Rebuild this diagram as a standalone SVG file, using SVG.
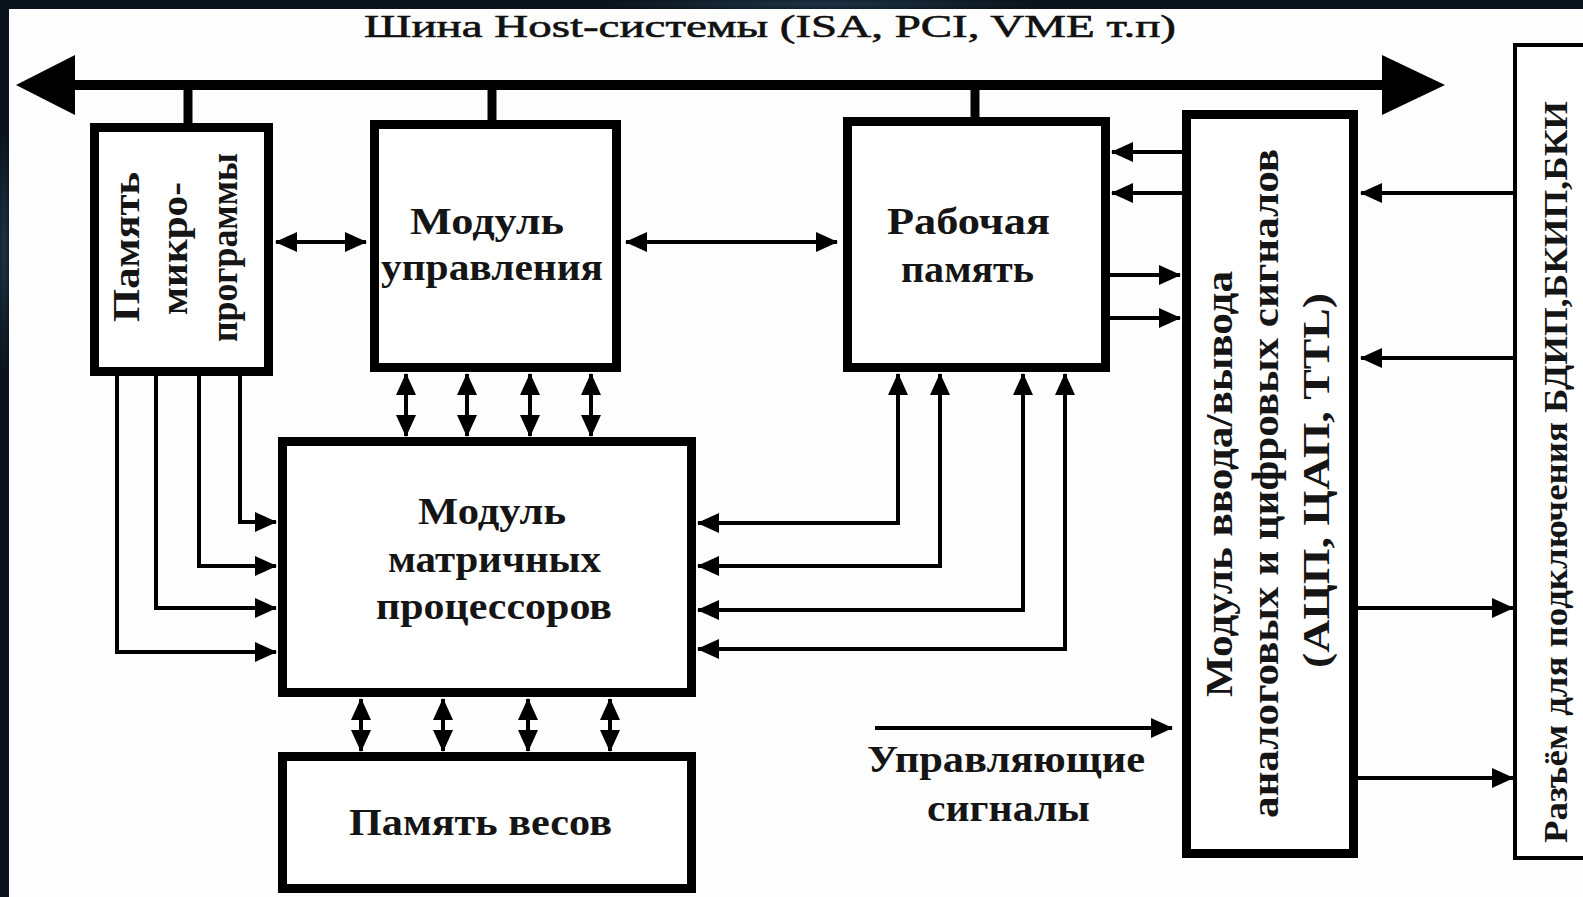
<svg xmlns="http://www.w3.org/2000/svg" width="1583" height="897" viewBox="0 0 1583 897">
<defs>
<marker id="ah" markerUnits="userSpaceOnUse" viewBox="0 0 22 20" markerWidth="22" markerHeight="20" refX="21" refY="10" orient="auto-start-reverse"><path d="M0,0 L22,10 L0,20 z" fill="#000"/></marker>
<radialGradient id="glow" cx="0.5" cy="0.5" r="0.5"><stop offset="0" stop-color="#2a4a63"/><stop offset="1" stop-color="#0b141c"/></radialGradient>
</defs>
<style>
.box{fill:#fff;stroke:#000;stroke-width:9}
.thin{fill:#fff;stroke:#000;stroke-width:4}
.ln{fill:none;stroke:#000;stroke-width:4}
.ar{marker-end:url(#ah)}
.ar2{marker-start:url(#ah);marker-end:url(#ah)}
.stub{stroke:#000;stroke-width:9}
.t{font-family:"Liberation Serif","Times New Roman",serif;font-weight:bold;fill:#151515}
.tn{font-family:"Liberation Serif","Times New Roman",serif;font-weight:normal;fill:#111;stroke:#111;stroke-width:0.6}
</style>
<rect x="0" y="0" width="1583" height="897" fill="#0b141c"/>
<ellipse cx="820" cy="4" rx="220" ry="8" fill="url(#glow)" opacity="0.6"/>
<ellipse cx="4" cy="250" rx="8" ry="120" fill="url(#glow)" opacity="0.6"/>
<rect x="9" y="9" width="1574" height="888" fill="#fdfdfd"/>

<text class="tn" x="364" y="37" font-size="32" textLength="812" lengthAdjust="spacingAndGlyphs">Шина Host-системы (ISA, PCI, VME т.п)</text>

<g id="connectors">
<line x1="70" y1="85" x2="1390" y2="85" stroke="#000" stroke-width="10"/>
<polygon points="16,85 75,55 75,115" fill="#000"/>
<polygon points="1445,85 1382,55 1382,115" fill="#000"/>
<line class="stub" x1="188" y1="85" x2="188" y2="124"/>
<line class="stub" x1="492" y1="85" x2="492" y2="122"/>
<line class="stub" x1="975" y1="85" x2="975" y2="119"/>

<path class="ln ar2" d="M276,242 H366"/>
<path class="ln ar2" d="M626,242 H837"/>

<path class="ln ar2" d="M406,374 V436"/>
<path class="ln ar2" d="M467,374 V436"/>
<path class="ln ar2" d="M530,374 V436"/>
<path class="ln ar2" d="M591,374 V436"/>

<path class="ln ar2" d="M361,699 V751"/>
<path class="ln ar2" d="M443,699 V751"/>
<path class="ln ar2" d="M528,699 V751"/>
<path class="ln ar2" d="M610,699 V751"/>

<path class="ln ar" d="M117,376 V652 H276"/>
<path class="ln ar" d="M156,376 V608 H276"/>
<path class="ln ar" d="M199,376 V566 H276"/>
<path class="ln ar" d="M240,376 V522 H276"/>

<path class="ln ar2" d="M898,374 V523 H698"/>
<path class="ln ar2" d="M940,374 V566 H698"/>
<path class="ln ar2" d="M1023,374 V610 H698"/>
<path class="ln ar2" d="M1065,374 V649 H698"/>

<path class="ln ar" d="M1182,152 H1112"/>
<path class="ln ar" d="M1182,193 H1112"/>
<path class="ln ar" d="M1110,275 H1180"/>
<path class="ln ar" d="M1110,318 H1180"/>

<path class="ln ar" d="M1515,193 H1361"/>
<path class="ln ar" d="M1515,358 H1361"/>
<path class="ln ar" d="M1358,608 H1513"/>
<path class="ln ar" d="M1358,778 H1513"/>

<path class="ln ar" d="M875,728 H1172"/>
</g>

<g id="mem-micro">
<rect class="box" x="94.5" y="127.5" width="174" height="244"/>
<text class="t" font-size="37" transform="translate(139,322) rotate(-90)" textLength="150" lengthAdjust="spacingAndGlyphs">Память</text>
<text class="t" font-size="37" transform="translate(187,315) rotate(-90)" textLength="133" lengthAdjust="spacingAndGlyphs">микро-</text>
<text class="t" font-size="37" transform="translate(237,342) rotate(-90)" textLength="189" lengthAdjust="spacingAndGlyphs">программы</text>
</g>

<g id="ctrl-module">
<rect class="box" x="374.5" y="124.5" width="242" height="243"/>
<text class="t" font-size="37" x="410" y="234" textLength="154" lengthAdjust="spacingAndGlyphs">Модуль</text>
<text class="t" font-size="37" x="381" y="280" textLength="222" lengthAdjust="spacingAndGlyphs">управления</text>
</g>

<g id="work-mem">
<rect class="box" x="847.5" y="121.5" width="258" height="246"/>
<text class="t" font-size="37" x="887" y="234" textLength="163" lengthAdjust="spacingAndGlyphs">Рабочая</text>
<text class="t" font-size="37" x="901" y="282" textLength="133" lengthAdjust="spacingAndGlyphs">память</text>
</g>

<g id="matrix-module">
<rect class="box" x="282.5" y="441.5" width="409" height="251"/>
<text class="t" font-size="37" x="418" y="524" textLength="148" lengthAdjust="spacingAndGlyphs">Модуль</text>
<text class="t" font-size="37" x="388" y="572" textLength="213" lengthAdjust="spacingAndGlyphs">матричных</text>
<text class="t" font-size="37" x="376" y="619" textLength="236" lengthAdjust="spacingAndGlyphs">процессоров</text>
</g>

<g id="weights-mem">
<rect class="box" x="282.5" y="756.5" width="409" height="132"/>
<text class="t" font-size="37" x="349" y="835" textLength="263" lengthAdjust="spacingAndGlyphs">Память весов</text>
</g>

<g id="io-module">
<rect class="box" x="1186.5" y="114.5" width="167" height="739"/>
<text class="t" font-size="37" transform="translate(1232,697) rotate(-90)" textLength="426" lengthAdjust="spacingAndGlyphs">Модуль ввода/вывода</text>
<text class="t" font-size="37" transform="translate(1278,818) rotate(-90)" textLength="669" lengthAdjust="spacingAndGlyphs">аналоговых и цифровых сигналов</text>
<text class="t" font-size="37" transform="translate(1329,668) rotate(-90)" textLength="375" lengthAdjust="spacingAndGlyphs">(АЦП, ЦАП, TTL)</text>
</g>

<g id="connector-slot">
<rect class="thin" x="1515" y="45" width="100" height="813"/>
<text class="t" font-size="33" transform="translate(1567,843) rotate(-90)" textLength="742" lengthAdjust="spacingAndGlyphs">Разъём для подключения БДИП,БКИП,БКИ</text>
</g>

<g id="ctrl-signals-label">
<text class="t" font-size="37" x="867" y="772" textLength="278" lengthAdjust="spacingAndGlyphs">Управляющие</text>
<text class="t" font-size="37" x="927" y="821" textLength="163" lengthAdjust="spacingAndGlyphs">сигналы</text>
</g>
</svg>
